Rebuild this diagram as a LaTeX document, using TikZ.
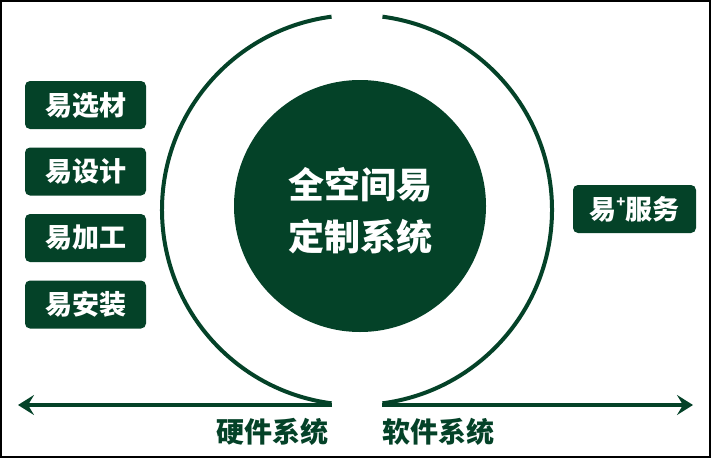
\documentclass[tikz,border=0pt]{standalone}
\usepackage{fontspec}
\setmainfont{Noto Sans CJK SC}
\usetikzlibrary{calc}
\usetikzlibrary{arrows.meta}
\definecolor{mygreen}{RGB}{4,66,40}
\tikzset{%
  myedge/.style={-{Stealth[length=16pt,width=20pt,inset=6pt]}, draw=mygreen, line width=4pt},
  myarc/.style={draw=mygreen, line width=4pt},
  mybox/.style={rectangle, rounded corners=5pt, fill=mygreen, text=white, inner sep=0pt,
    minimum width=121pt, minimum height=48pt, font=\bfseries\fontsize{27}{30}\selectfont},
  mycircle/.style={circle, fill=mygreen, inner sep=0pt, minimum size=252pt},
  mytitle/.style={text=white, align=center, font=\bfseries\fontsize{36}{52}\selectfont},
  mylabel/.style={text=mygreen, font=\bfseries\fontsize{28}{30}\selectfont}
}

\begin{document}
\begin{tikzpicture}[x=1pt, y=1pt]
  \tikzset{myedge/.style={-{Stealth[length=16pt,width=20pt,inset=6pt]}, draw=mygreen, line width=4pt}};

\useasboundingbox (0,0) rectangle (711,459);
\draw [line width=1.5pt] (1,2) rectangle (710,458);

\coordinate [] (O) at (357,249);
\coordinate [] (H0) at (18,54);
\coordinate [] (H1) at (332,54);
\coordinate [] (S0) at (382,54);
\coordinate [] (S1) at (693,54);

% 外圈
\draw [myarc] (O) ++(97.5:195) arc (97.5:262.5:195);
\draw [myarc] (O) ++(82.5:195) arc (82.5:-82.5:195);

\node [mycircle] (core) at (360,253) {};
\node [mytitle] (coretext) at (360,248) {全空间易\\定制系统};

\foreach \t [count=\i] in {易选材,易设计,易加工,易安装} {
  \node [mybox] (B\i) at (85.5, 354-66.5*\i+66.5) {\t};
}

\node [mybox, minimum width=123pt] (plus) at (634.5,250)
  {易\raisebox{0.42em}{\fontsize{15}{15}\selectfont +}服务};

% 轴
\draw [myedge] (H1) -- (H0);
\draw [myedge] (S0) -- (S1);

\node [mylabel] (hw) at (272.5,27) {硬件系统};
\node [mylabel] (sw) at (438,27) {软件系统};
\end{tikzpicture}
\end{document}
